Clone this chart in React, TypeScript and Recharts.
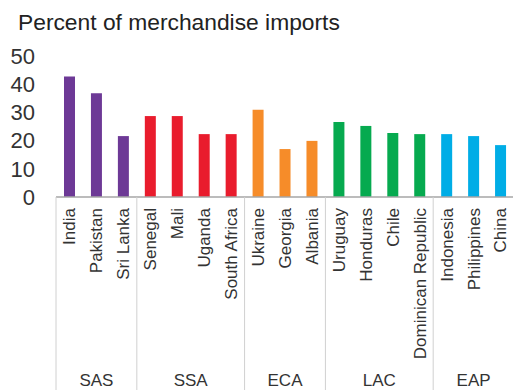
import { Bar, BarChart, Cell, XAxis, YAxis } from "recharts";

const countries = [
  "India",
  "Pakistan",
  "Sri Lanka",
  "Senegal",
  "Mali",
  "Uganda",
  "South Africa",
  "Ukraine",
  "Georgia",
  "Albania",
  "Uruguay",
  "Honduras",
  "Chile",
  "Dominican Republic",
  "Indonesia",
  "Philippines",
  "China",
];
const values = [42.7, 36.8, 21.6, 28.7, 28.7, 22.3, 22.3, 30.9, 17.0, 19.9, 26.6, 25.2, 22.7, 22.3, 22.3, 21.6, 18.4];
const regions = ["SAS", "SAS", "SAS", "SSA", "SSA", "SSA", "SSA", "ECA", "ECA", "ECA", "LAC", "LAC", "LAC", "LAC", "EAP", "EAP", "EAP"];
const yTicks = [0, 10, 20, 30, 40, 50];

const regionColors: Record<string, string> = {
  SAS: "#6d3996",
  SSA: "#e91c2d",
  ECA: "#f68c29",
  LAC: "#06aa4f",
  EAP: "#00ade6",
};

const data = countries.map((name, i) => ({ name, value: values[i], region: regions[i] }));

const CHART_W = 514;
const Y_W = 56;

function CountryTick(props: any) {
  const { x, y, payload } = props;
  const i: number = payload.index ?? props.index;
  // half a category band, from the axis payload (fallback: plot width / count)
  const half: number = payload.offset || (CHART_W - Y_W) / countries.length / 2;
  const region = regions[i];
  const first = i === 0 || regions[i - 1] !== region;
  const count = regions.filter((r) => r === region).length;
  return (
    <g>
      <text
        transform={`translate(${x},${y + 11}) rotate(-90)`}
        textAnchor="end"
        dy="0.35em"
        fontSize={17}
        fill="#333"
      >
        {countries[i]}
      </text>
      {first && (
        <line x1={x - half} x2={x - half} y1={y} y2={y + 200} stroke="#d0d0d0" strokeWidth={1} />
      )}
      {first && (
        <text x={x - half + count * half} y={y + 189} textAnchor="middle" fontSize={17} fill="#333">
          {region}
        </text>
      )}
    </g>
  );
}

export default function App() {
  return (
    <div
      style={{
        position: "fixed",
        left: 0,
        top: 0,
        width: 513,
        height: 390,
        overflow: "hidden",
        background: "#fff",
        fontFamily: "'Liberation Sans', Arial, sans-serif",
      }}
    >
      <div
        style={{
          position: "absolute",
          left: 18,
          top: 11,
          fontSize: 22.8,
          lineHeight: "22px",
          color: "#222",
          whiteSpace: "nowrap",
        }}
      >
        Percent of merchandise imports
      </div>
      <BarChart
        width={CHART_W}
        height={390}
        data={data}
        margin={{ top: 56, right: 0, bottom: 0, left: 0 }}
      >
        <YAxis
          domain={[0, 50]}
          ticks={yTicks}
          width={Y_W}
          axisLine={false}
          tickLine={false}
          tickSize={0}
          tickMargin={21}
          tick={{ fontSize: 22, fill: "#333" }}
          interval={0}
        />
        <XAxis
          dataKey="name"
          height={193}
          interval={0}
          tickLine={false}
          tickSize={0}
          tickMargin={0}
          axisLine={{ stroke: "#a6a6a6", strokeWidth: 1.5 }}
          tick={<CountryTick />}
        />
        <Bar dataKey="value" barSize={11} isAnimationActive={false}>
          {data.map((d) => (
            <Cell key={d.name} fill={regionColors[d.region]} />
          ))}
        </Bar>
      </BarChart>
    </div>
  );
}
